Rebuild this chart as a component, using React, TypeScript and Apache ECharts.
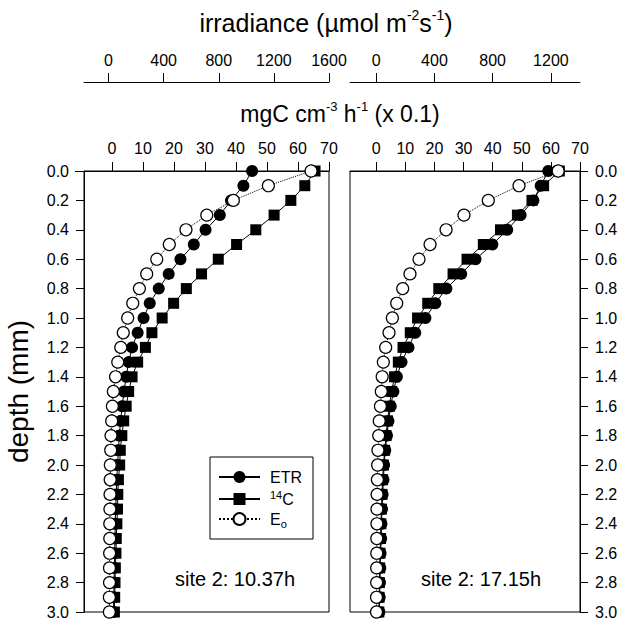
import React, { useEffect, useRef } from 'react';
import * as echarts from 'echarts';

const FONT = "'Liberation Sans', Arial, Helvetica, sans-serif";

// depth (mm)
const depth = [0.0, 0.1, 0.2, 0.3, 0.4, 0.5, 0.6, 0.7, 0.8, 0.9, 1.0, 1.1, 1.2, 1.3, 1.4, 1.5,
  1.6, 1.7, 1.8, 1.9, 2.0, 2.1, 2.2, 2.3, 2.4, 2.5, 2.6, 2.7, 2.8, 2.9, 3.0];

// site 2: 10.37h (left panel)
const etrLeft = [45.2, 42.4, 38.4, 34.8, 30.2, 26.4, 22.1, 18.3, 15.1, 12.2, 10.2, 8.3, 6.5, 5.4, 4.6, 3.9,
  3.3, 2.8, 2.4, 2.1, 1.8, 1.6, 1.4, 1.2, 1.1, 1.0, 0.9, 0.8, 0.7, 0.6, 0.5];
const c14Left = [65.5, 62.2, 57.7, 52.3, 46.4, 40.2, 34.3, 28.9, 24.0, 19.9, 16.2, 12.9, 10.8, 8.3, 6.5, 5.4,
  4.6, 3.8, 3.2, 2.7, 2.5, 2.1, 1.9, 1.8, 1.6, 1.4, 1.3, 1.1, 1.0, 0.9, 0.8];
const eoLeft = [1470, 1160, 906, 713, 562, 441, 350, 277, 224, 176, 139, 107, 89, 67, 51, 35,
  28, 23, 18, 16, 13, 12, 11, 10, 9, 9, 8, 7, 7, 6, 6];

// site 2: 17.15h (right panel)
const etrRight = [59.1, 56.5, 54.0, 49.6, 45.0, 39.9, 34.1, 29.2, 24.1, 20.3, 16.9, 13.4, 11.1, 8.7, 7.1, 5.9,
  5.0, 4.2, 3.7, 3.1, 2.7, 2.5, 2.2, 2.0, 1.8, 1.7, 1.5, 1.4, 1.3, 1.2, 1.1];
const c14Right = [62.9, 57.5, 53.5, 48.5, 42.7, 36.8, 31.2, 26.4, 21.5, 17.7, 14.2, 11.7, 9.2, 7.6, 6.3, 5.3,
  4.5, 3.9, 3.4, 2.9, 2.5, 2.2, 2.0, 1.8, 1.6, 1.5, 1.3, 1.2, 1.1, 1.0, 0.9];
const eoRight = [1250, 981, 770, 603, 480, 370, 294, 232, 182, 141, 111, 88, 65, 49, 41, 35,
  29, 21, 17, 12, 10, 8, 6, 5, 5, 4, 4, 3, 3, 2, 2];

// tick labels
const mgcTicks = [0, 10, 20, 30, 40, 50, 60, 70];
const irrTicksLeft = [0, 400, 800, 1200, 1600];
const irrTicksRight = [0, 400, 800, 1200];
const legendNames = ['ETR', '14C', 'Eo'];
const siteLabels = ['site 2: 10.37h', 'site 2: 17.15h'];

const pairs = (xs: number[], ys: number[]) => xs.map((x, i) => [x, ys[i]]);

const black = '#000';

function xAxisDef(grid: number, min: number, max: number, ticks: number[], offset: number, margin: number) {
  return {
    type: 'value',
    gridIndex: grid,
    position: 'top',
    offset,
    min,
    max,
    axisLine: { show: true, onZero: false, lineStyle: { color: black, width: 1 } },
    axisTick: { show: true, length: 9, customValues: ticks, lineStyle: { color: black, width: 1 } },
    axisLabel: {
      show: true, customValues: ticks, margin, color: black, fontSize: 16, fontFamily: FONT,
      formatter: (v: number) => String(v),
    },
    splitLine: { show: false },
  };
}

function yAxisDef(grid: number, position: string, withName: boolean) {
  return {
    type: 'value',
    gridIndex: grid,
    position,
    inverse: true,
    min: 0,
    max: 3,
    interval: 0.2,
    name: withName ? 'depth (mm)' : '',
    nameLocation: 'middle',
    nameRotate: 90,
    nameGap: 52,
    nameTextStyle: { color: black, fontSize: 28, fontFamily: FONT },
    axisLine: { show: true, onZero: false, lineStyle: { color: black, width: 1 } },
    axisTick: { show: true, length: 8, lineStyle: { color: black, width: 1 } },
    axisLabel: {
      margin: 15, color: black, fontSize: 16, fontFamily: FONT,
      formatter: (v: number) => v.toFixed(1),
    },
    splitLine: { show: false },
  };
}

function series(name: string, xi: number, yi: number, xs: number[], kind: string) {
  const base: any = {
    name,
    type: 'line',
    xAxisIndex: xi,
    yAxisIndex: yi,
    data: pairs(xs, depth),
    clip: false,
    showSymbol: true,
  };
  if (kind === 'etr') {
    base.symbol = 'circle';
    base.symbolSize = 12;
    base.itemStyle = { color: black };
    base.lineStyle = { color: black, width: 1, type: 'solid' };
    base.z = 3;
  } else if (kind === 'c14') {
    base.symbol = 'rect';
    base.symbolSize = 11;
    base.itemStyle = { color: black };
    base.lineStyle = { color: black, width: 1, type: 'solid' };
    base.z = 2;
  } else {
    base.symbol = 'circle';
    base.symbolSize = 12;
    base.itemStyle = { color: '#fff', borderColor: black, borderWidth: 1.2 };
    base.lineStyle = { color: black, width: 1, type: 'dotted' };
    base.z = 4;
  }
  return base;
}

const titleRich = {
  a: { fontSize: 25, fontFamily: FONT, lineHeight: 30, fill: black, color: black },
  s: { fontSize: 14, fontFamily: FONT, lineHeight: 14, verticalAlign: 'top', fill: black, color: black },
};
const title2Rich = {
  a: { fontSize: 23, fontFamily: FONT, lineHeight: 28, fill: black, color: black },
  s: { fontSize: 13, fontFamily: FONT, lineHeight: 13, verticalAlign: 'top', fill: black, color: black },
};

export default function App() {
  const ref = useRef<HTMLDivElement>(null);
  useEffect(() => {
    if (!ref.current) return;
    const chart = echarts.init(ref.current, undefined, { renderer: 'svg' });
    const option: any = {
      animation: false,
      backgroundColor: '#fff',
      grid: [
        { left: 84, top: 171, width: 245, height: 441, show: true, borderColor: black, borderWidth: 1, backgroundColor: 'transparent' },
        { left: 350, top: 171, width: 230, height: 441, show: true, borderColor: black, borderWidth: 1, backgroundColor: 'transparent' },
      ],
      xAxis: [
        xAxisDef(0, -9, 70, mgcTicks, 0, 15),
        xAxisDef(0, -178, 1600, irrTicksLeft, 89, 14),
        xAxisDef(1, -9, 70, mgcTicks, 0, 15),
        xAxisDef(1, -180, 1400, irrTicksRight, 89, 14),
      ],
      yAxis: [yAxisDef(0, 'left', true), yAxisDef(1, 'right', false)],
      legend: {
        data: legendNames,
        orient: 'vertical',
        left: 210,
        top: 457,
        itemWidth: 41,
        itemHeight: 15,
        itemGap: 4,
        padding: [12, 11, 10, 8],
        borderColor: black,
        borderWidth: 1,
        selectedMode: false,
        formatter: (name: string) => {
          if (name === '14C') return '{sup|14}{n|C}';
          if (name === 'Eo') return '{n|E}{sub|o}';
          return '{n|' + name + '}';
        },
        textStyle: {
          color: black,
          fontFamily: FONT,
          fontSize: 16,
          padding: [0, 0, 0, 5],
          rich: {
            n: { fontSize: 16, fontFamily: FONT, lineHeight: 20, color: black },
            sup: { fontSize: 11, fontFamily: FONT, lineHeight: 11, verticalAlign: 'top', color: black },
            sub: { fontSize: 11, fontFamily: FONT, lineHeight: 11, verticalAlign: 'bottom', color: black },
          },
        },
      },
      series: [
        series('14C', 0, 0, c14Left, 'c14'),
        series('ETR', 0, 0, etrLeft, 'etr'),
        series('Eo', 1, 0, eoLeft, 'eo'),
        series('14C', 2, 1, c14Right, 'c14'),
        series('ETR', 2, 1, etrRight, 'etr'),
        series('Eo', 3, 1, eoRight, 'eo'),
      ],
      graphic: [
        {
          type: 'line',
          shape: { x1: 75, y1: 171.5, x2: 84, y2: 171.5 },
          style: { stroke: black, lineWidth: 1 },
        },
        {
          type: 'text', x: 326, y: 23,
          style: {
            text: '{a|irradiance (µmol m}{s|-2}{a|s}{s|-1}{a|)}',
            rich: titleRich, align: 'center', verticalAlign: 'middle', fill: black,
          },
        },
        {
          type: 'text', x: 340, y: 114,
          style: {
            text: '{a|mgC cm}{s|-3}{a| h}{s|-1}{a| (x 0.1)}',
            rich: title2Rich, align: 'center', verticalAlign: 'middle', fill: black,
          },
        },
        {
          type: 'text', x: 235, y: 579,
          style: { text: siteLabels[0], font: `20px ${FONT}`, align: 'center', verticalAlign: 'middle', fill: black },
        },
        {
          type: 'text', x: 481, y: 579,
          style: { text: siteLabels[1], font: `20px ${FONT}`, align: 'center', verticalAlign: 'middle', fill: black },
        },
      ],
    };
    chart.setOption(option);
    return () => chart.dispose();
  }, []);
  return (
    <div
      ref={ref}
      style={{ position: 'fixed', left: 0, top: 0, width: 624, height: 620, background: '#fff' }}
    />
  );
}
